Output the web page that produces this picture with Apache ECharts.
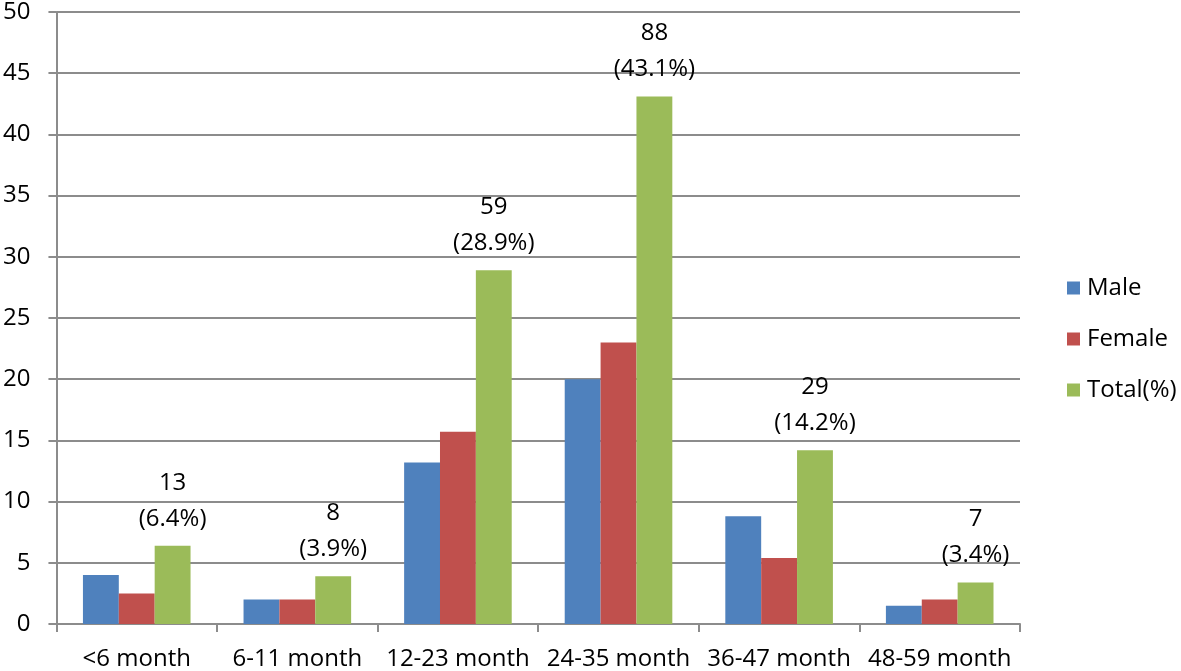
<!DOCTYPE html>
<html>
<head>
<meta charset="utf-8">
<script src="https://cdn.jsdelivr.net/npm/echarts@6/dist/echarts.min.js"></script>
<style>html,body{margin:0;padding:0;background:#fff}#c{width:1181px;height:671px}</style>
</head>
<body>
<div id="c"></div>
<script>
var categories = ['<6 month', '6-11 month', '12-23 month', '24-35 month', '36-47 month', '48-59 month'];
var male = [4, 2, 13.2, 20, 8.8, 1.5];
var female = [2.5, 2, 15.7, 23, 5.4, 2];
var total = [6.4, 3.9, 28.9, 43.1, 14.2, 3.4];
var totalCounts = [13, 8, 59, 88, 29, 7];
var totalPct = ['6.4%', '3.9%', '28.9%', '43.1%', '14.2%', '3.4%'];
var yTicks = [0, 5, 10, 15, 20, 25, 30, 35, 40, 45, 50];

var font = '"Open Sans", "Liberation Sans", sans-serif';
var chart = echarts.init(document.getElementById('c'), null, {renderer: 'canvas'});
chart.setOption({
  animation: false,
  backgroundColor: '#ffffff',
  textStyle: {fontFamily: font},
  grid: {left: 53, right: 161, top: 10, bottom: 45, containLabel: false},
  legend: {
    orient: 'vertical',
    left: 1062,
    top: 271,
    itemWidth: 13,
    itemHeight: 13,
    itemGap: 27,
    icon: 'rect',
    textStyle: {fontFamily: font, fontSize: 24, color: '#000', padding: [0, 0, 0, 2]},
    data: ['Male', 'Female', 'Total(%)']
  },
  xAxis: {
    type: 'category',
    data: categories,
    axisLine: {lineStyle: {color: '#8c8c8c', width: 2}},
    axisTick: {show: true, length: 8, alignWithLabel: false, lineStyle: {color: '#8c8c8c', width: 2}},
    axisLabel: {fontFamily: font, fontSize: 24, color: '#000', margin: 23, interval: 0}
  },
  yAxis: {
    type: 'value',
    min: yTicks[0],
    max: yTicks[yTicks.length - 1],
    interval: 5,
    axisLine: {show: true, lineStyle: {color: '#8c8c8c', width: 2}},
    axisTick: {show: true, length: 8, lineStyle: {color: '#8c8c8c', width: 2}},
    axisLabel: {fontFamily: font, fontSize: 24, color: '#000', margin: 26},
    splitLine: {show: true, lineStyle: {color: '#8c8c8c', width: 2}}
  },
  series: [
    {name: 'Male', type: 'bar', data: male, barGap: '0%', barCategoryGap: '33%', itemStyle: {color: '#4F81BD'}},
    {name: 'Female', type: 'bar', data: female, barGap: '0%', barCategoryGap: '33%', itemStyle: {color: '#C0504D'}},
    {name: 'Total(%)', type: 'bar', data: total, barGap: '0%', barCategoryGap: '33%', itemStyle: {color: '#9BBB59'},
      label: {
        show: true, position: 'top', distance: 9,
        fontFamily: font, fontSize: 24, color: '#000', lineHeight: 36,
        formatter: function (p) { return totalCounts[p.dataIndex] + '\n(' + totalPct[p.dataIndex] + ')'; }
      }
    }
  ]
});
</script>
</body>
</html>
